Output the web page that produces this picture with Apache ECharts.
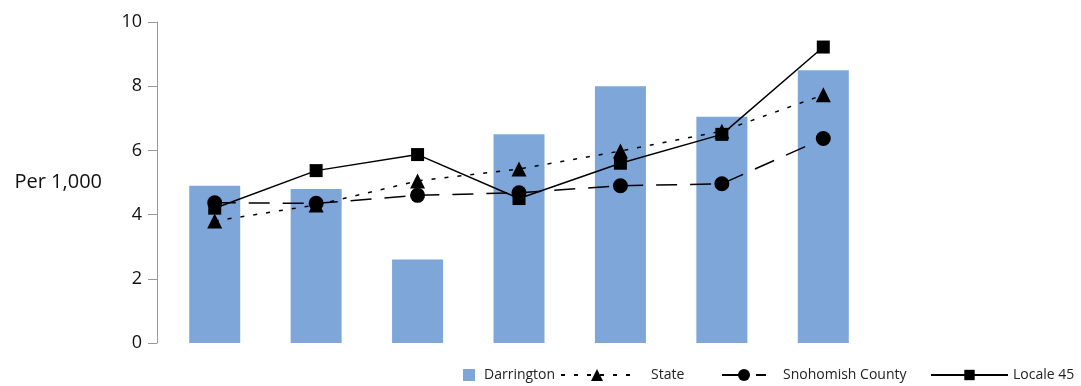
<!DOCTYPE html>
<html>
<head>
<meta charset="utf-8">
<script src="https://cdn.jsdelivr.net/npm/echarts@6/dist/echarts.min.js"></script>
<style>
  html, body { margin: 0; padding: 0; background: #fff; }
  #chart { width: 1081px; height: 386px; }
</style>
</head>
<body>
<div id="chart"></div>
<script>
var categories = ['1', '2', '3', '4', '5', '6', '7'];
var darrington = [4.9, 4.8, 2.6, 6.5, 8.0, 7.05, 8.5];
var state = [3.8, 4.3, 5.05, 5.42, 5.98, 6.6, 7.73];
var snohomish = [4.37, 4.35, 4.6, 4.68, 4.9, 4.96, 6.37];
var locale45 = [4.2, 5.37, 5.87, 4.5, 5.6, 6.5, 9.22];

(function() {
  var myChart = echarts.init(document.getElementById('chart'));
  var font = 'Open Sans';
  var legendText = { fontFamily: font, fontSize: 14, color: '#222' };

  var option = {
    animation: false,
    grid: { left: 164, right: 207, top: 22, bottom: 43 },
    legend: [
      { data: [{ name: 'Darrington', icon: 'rect' }], left: 463, top: 368, padding: 0, itemWidth: 12, itemHeight: 12,
        textStyle: Object.assign({ padding: [0, 0, 0, 4] }, legendText) },
      { data: ['State'], left: 560, top: 368, padding: 0, itemWidth: 72, itemHeight: 15,
        textStyle: Object.assign({ padding: [0, 0, 0, 13] }, legendText) },
      { data: ['Snohomish County'], left: 721, top: 368, padding: 0, itemWidth: 44, itemHeight: 15,
        textStyle: Object.assign({ padding: [0, 0, 0, 12] }, legendText) },
      { data: ['Locale 45'], left: 930, top: 368, padding: 0, itemWidth: 77, itemHeight: 13, textStyle: legendText }
    ],
    xAxis: {
      type: 'category',
      data: categories,
      axisLine: { show: false },
      axisTick: { show: false },
      axisLabel: { show: false }
    },
    yAxis: {
      type: 'value',
      min: 0, max: 10, interval: 2,
      offset: 7,
      name: 'Per 1,000',
      nameLocation: 'middle',
      nameRotate: 0,
      nameGap: 55,
      nameTextStyle: { fontFamily: font, fontSize: 20, color: '#111', align: 'right' },
      axisLine: { show: true, lineStyle: { color: '#999', width: 1 } },
      axisTick: { show: true, length: 9, lineStyle: { color: '#999' } },
      axisLabel: { fontFamily: font, fontSize: 18, color: '#111', margin: 15 },
      splitLine: { show: false }
    },
    series: [
      {
        name: 'Darrington', type: 'bar', data: darrington,
        barWidth: 51,
        itemStyle: { color: '#7ea6d8' }
      },
      {
        name: 'State', type: 'line', data: state,
        symbol: 'triangle', symbolSize: 15,
        itemStyle: { color: '#000' },
        lineStyle: { color: '#000', width: 1.5, type: [4, 9] }
      },
      {
        name: 'Snohomish County', type: 'line', data: snohomish,
        symbol: 'circle', symbolSize: 15,
        itemStyle: { color: '#000' },
        lineStyle: { color: '#000', width: 1.5, type: [21, 13] }
      },
      {
        name: 'Locale 45', type: 'line', data: locale45,
        symbol: 'rect', symbolSize: 13,
        itemStyle: { color: '#000' },
        lineStyle: { color: '#000', width: 1.5 }
      }
    ]
  };
  myChart.setOption(option);
})();
</script>
</body>
</html>
